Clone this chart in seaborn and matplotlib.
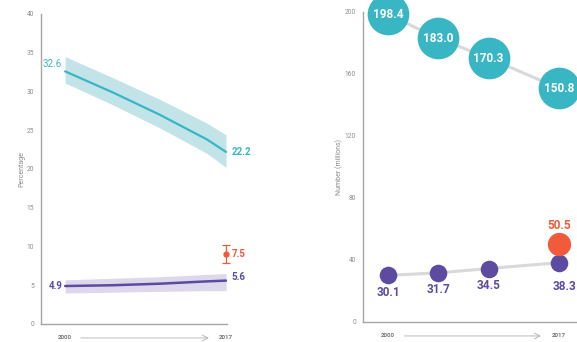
import numpy as np
import pandas as pd
import matplotlib.pyplot as plt
import seaborn as sns

# Left panel: percentages
years_pct = [2000, 2005, 2010, 2015, 2017]
teal_pct = [32.6, 29.9, 27.0, 23.8, 22.2]
teal_lo = [31.1, 28.3, 25.3, 22.0, 20.2]
teal_hi = [34.5, 31.8, 29.0, 25.9, 24.4]
purple_pct = [4.9, 5.0, 5.2, 5.5, 5.6]
purple_lo = [4.0, 4.1, 4.2, 4.3, 4.3]
purple_hi = [5.7, 5.9, 6.1, 6.4, 6.5]
red_year = 2017
red_pct = 9.0
red_err = [7.9, 10.2]
red_pct_label = '7.5'

# Right panel: numbers (millions)
years_num = [2000, 2005, 2010, 2017]
teal_num = [198.4, 183.0, 170.3, 150.8]
purple_num = [30.1, 31.7, 34.5, 38.3]
red_num = 50.5

TEAL = '#38b6c4'
TEAL_BAND = '#c2e4e8'
PURPLE = '#5c4ba0'
PURPLE_BAND = '#ddd8ec'
RED = '#f15a3a'
GRID = '#a6a6a6'
LINK = '#d9d9d9'

sns.set_style('white')
plt.rcParams['font.family'] = ['Roboto', 'DejaVu Sans']

fig = plt.figure(figsize=(5.77, 3.42), dpi=100)
W, H = 577, 342


def px_axes(left, top, right, bottom):
    return fig.add_axes([left / W, 1 - bottom / H, (right - left) / W, (bottom - top) / H])


def style_axis(ax):
    for side in ['top', 'right']:
        ax.spines[side].set_visible(False)
    for side in ['left', 'bottom']:
        ax.spines[side].set_color(GRID)
        ax.spines[side].set_linewidth(1.0)
    ax.tick_params(axis='y', direction='in', length=3.5, width=0.8, color=GRID,
                   labelsize=4.8, labelcolor='#8c8c8c', pad=5)
    ax.tick_params(axis='x', direction='in', length=7, width=0.8, color=GRID,
                   labelbottom=False)


# ---------- left panel ----------
ax1 = px_axes(41, 14, 227, 324)
ax1.set_xlim(1997.45, 2017.1)
ax1.set_ylim(0, 40)
style_axis(ax1)
ax1.set_yticks(range(0, 41, 5))
ax1.set_xticks(years_pct)

ax1.fill_between(years_pct, teal_lo, teal_hi, color=TEAL_BAND, lw=0)
ax1.fill_between(years_pct, purple_lo, purple_hi, color=PURPLE_BAND, lw=0)
df_pct = pd.DataFrame({'year': years_pct, 'teal': teal_pct, 'purple': purple_pct})
sns.lineplot(data=df_pct, x='year', y='teal', color=TEAL, lw=1.6, ax=ax1)
sns.lineplot(data=df_pct, x='year', y='purple', color=PURPLE, lw=1.8, ax=ax1)
ax1.errorbar([red_year], [red_pct],
             yerr=[[red_pct - red_err[0]], [red_err[1] - red_pct]],
             fmt='o', ms=3.5, color=RED, capsize=3, elinewidth=0.9, capthick=0.9,
             clip_on=False)
ax1.set_xlabel('')
ax1.set_ylabel('Percentage', fontsize=5, color='#8c8c8c', labelpad=1)

ax1.text(years_pct[0] - 0.4, teal_pct[0] + 0.9, f'{teal_pct[0]}', color=TEAL,
         fontsize=7, ha='right', va='center')
ax1.text(years_pct[-1] + 0.6, teal_pct[-1], f'{teal_pct[-1]}', color=TEAL,
         fontsize=7, fontweight='bold', ha='left', va='center', clip_on=False)
ax1.text(years_pct[0] - 0.3, purple_pct[0], f'{purple_pct[0]}', color=PURPLE,
         fontsize=7, fontweight='bold', ha='right', va='center')
ax1.text(years_pct[-1] + 0.6, purple_pct[-1] + 0.4, f'{purple_pct[-1]}', color=PURPLE,
         fontsize=7, fontweight='bold', ha='left', va='center', clip_on=False)
ax1.text(red_year + 0.6, red_pct, red_pct_label, color=RED,
         fontsize=7, fontweight='bold', ha='left', va='center', clip_on=False)

# ---------- right panel ----------
ax2 = px_axes(363, 12, 577, 322)
ax2.set_xlim(2000 - 25 / 10.06, 2000 + 214 / 10.06 - 25 / 10.06)
ax2.set_ylim(0, 200)
style_axis(ax2)
ax2.set_yticks(range(0, 201, 40))
ax2.set_xticks(years_num)

df_num = pd.DataFrame({'year': years_num, 'teal': teal_num, 'purple': purple_num})
sns.lineplot(data=df_num, x='year', y='teal', color=LINK, lw=2.2, ax=ax2)
sns.lineplot(data=df_num, x='year', y='purple', color=LINK, lw=2.2, ax=ax2)
sns.scatterplot(data=df_num, x='year', y='teal', color=TEAL, s=900, lw=0,
                ax=ax2, clip_on=False, zorder=3)
sns.scatterplot(data=df_num, x='year', y='purple', color=PURPLE, s=160, lw=0,
                ax=ax2, clip_on=False, zorder=3)
sns.scatterplot(x=[years_num[-1]], y=[red_num], color=RED, s=280, lw=0,
                ax=ax2, clip_on=False, zorder=3)
ax2.set_xlabel('')
ax2.set_ylabel('Number (millions)', fontsize=5, color='#8c8c8c', labelpad=1)

for yr, v in zip(years_num, teal_num):
    ax2.text(yr, v, f'{v:.1f}', color='white', fontsize=8.5, fontweight='bold',
             ha='center', va='center', zorder=4, clip_on=False)
for yr, v in zip(years_num[:-1], purple_num[:-1]):
    ax2.text(yr, v - 11, f'{v:.1f}', color=PURPLE, fontsize=8.5, fontweight='bold',
             ha='center', va='center', zorder=4)
ax2.text(2000 + 188 / 10.06, purple_num[-1] - 15.5, f'{purple_num[-1]:.1f}', color=PURPLE,
         fontsize=8.5, fontweight='bold', ha='right', va='center', zorder=4, clip_on=False)
ax2.text(years_num[-1], red_num + 12, f'{red_num:.1f}', color=RED, fontsize=8.5,
         fontweight='bold', ha='center', va='center', zorder=4)

# year arrows under each panel
for ax, y0, y1 in [(ax1, 2000, 2017), (ax2, 2000, 2017)]:
    ax.text(y0, -0.045, '2000', transform=ax.get_xaxis_transform(), fontsize=4.5,
            fontweight='bold', color='#777777', ha='center', va='center')
    ax.text(y1, -0.045, '2017', transform=ax.get_xaxis_transform(), fontsize=4.5,
            fontweight='bold', color='#777777', ha='center', va='center')
    span = y1 - y0
    ax.annotate('', xy=(y1 - 0.09 * span, -0.045), xytext=(y0 + 0.08 * span, -0.045),
                xycoords=ax.get_xaxis_transform(),
                arrowprops=dict(arrowstyle='->', color='#b0b0b0', lw=0.6))

fig.savefig('out.png', dpi=100)
